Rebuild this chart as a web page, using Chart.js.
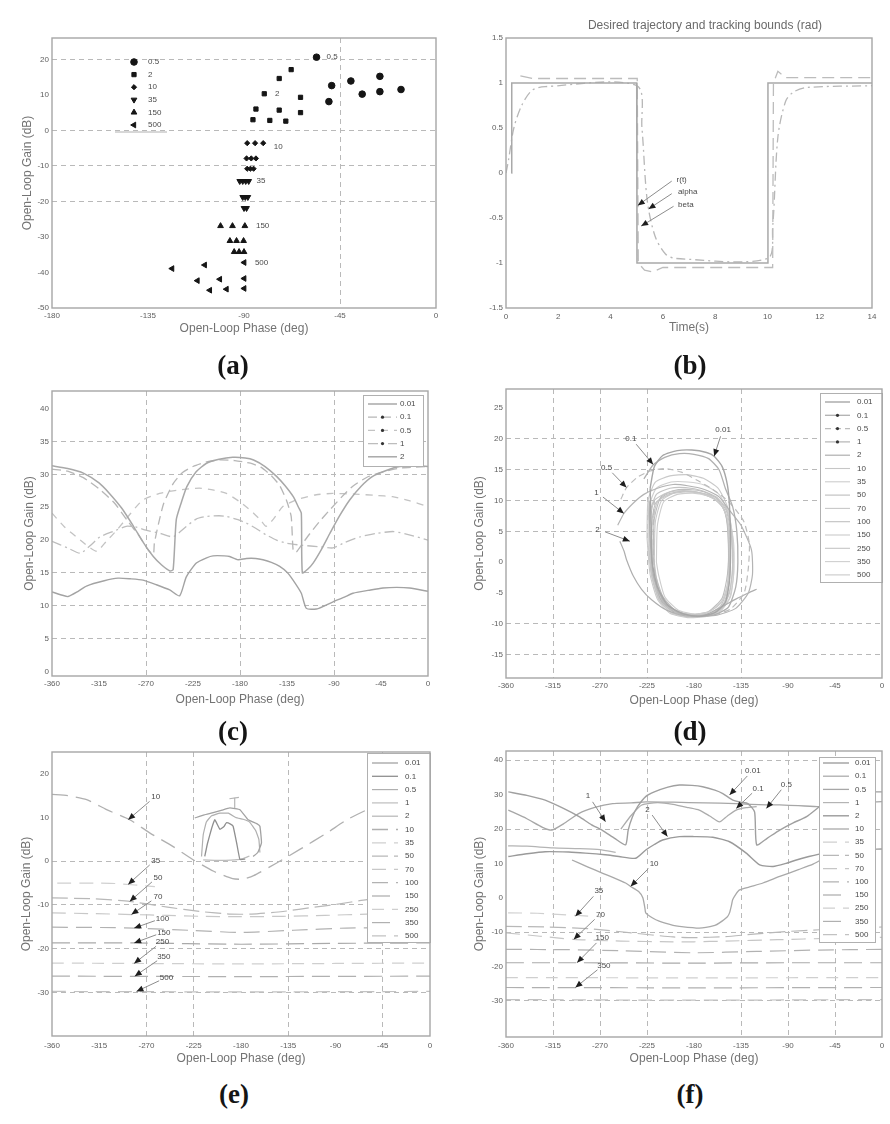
<!DOCTYPE html>
<html><head><meta charset="utf-8">
<script src="https://cdn.jsdelivr.net/npm/chart.js@4/dist/chart.umd.min.js"></script>
<style>
html,body{margin:0;padding:0;background:#fff}
body{width:890px;height:1124px;position:relative;overflow:hidden;font-family:"Liberation Sans",Arial,sans-serif}
.pn{position:absolute}
.cap{position:absolute;font-family:"Liberation Serif","Times New Roman",serif;font-weight:bold;font-size:27px;color:#151515;transform:translate(-50%,-50%);white-space:nowrap}
</style></head><body>
<div class="pn" style="left:0;top:0;width:445px;height:340px"><canvas id="ca"></canvas></div>
<div class="pn" style="left:445px;top:0;width:445px;height:340px"><canvas id="cb"></canvas></div>
<div class="pn" style="left:0;top:350px;width:445px;height:360px"><canvas id="cc"></canvas></div>
<div class="pn" style="left:445px;top:350px;width:445px;height:360px"><canvas id="cd"></canvas></div>
<div class="pn" style="left:0;top:715px;width:445px;height:355px"><canvas id="ce"></canvas></div>
<div class="pn" style="left:445px;top:715px;width:445px;height:355px"><canvas id="cf"></canvas></div>
<div class="cap" style="left:233px;top:365px">(a)</div>
<div class="cap" style="left:690px;top:365px">(b)</div>
<div class="cap" style="left:233px;top:731px">(c)</div>
<div class="cap" style="left:690px;top:731px">(d)</div>
<div class="cap" style="left:234px;top:1094px">(e)</div>
<div class="cap" style="left:690px;top:1094px">(f)</div>
<script>
// ---------------- DATA ----------------
// (a) open-loop gain vs phase, scatter groups
const a_legend = ['0.5','2','10','35','150','500'];
const a_w05  = [[-56,20.6],[-48.9,12.6],[-50.2,8.1],[-39.9,13.9],[-34.6,10.2],[-26.3,15.2],[-26.3,10.9],[-16.4,11.5]];
const a_w2   = [[-80.5,10.3],[-84.4,6.0],[-85.8,3.0],[-77.9,2.8],[-73.5,14.6],[-73.5,5.7],[-70.4,2.6],[-67.9,17.1],[-63.5,9.3],[-63.5,5.0]];
const a_w10  = [[-88.5,-3.6],[-84.8,-3.6],[-81.0,-3.6],[-88.8,-7.9],[-86.6,-7.9],[-84.4,-7.9],[-88.5,-10.8],[-87,-10.8],[-85.5,-10.8]];
const a_w35  = [[-92,-14.3],[-90.6,-14.3],[-89.2,-14.3],[-87.8,-14.3],[-90.6,-18.8],[-89.4,-18.8],[-88.2,-18.8],[-90,-21.9],[-88.8,-21.9]];
const a_w150 = [[-101,-26.9],[-95.4,-26.9],[-89.6,-26.9],[-96.6,-31.1],[-93.5,-31.1],[-90.2,-31.1],[-94.6,-34.2],[-92.3,-34.2],[-90,-34.2]];
const a_w500 = [[-89.9,-37.2],[-108.4,-37.9],[-123.7,-38.9],[-111.8,-42.3],[-101.3,-41.9],[-89.9,-41.7],[-106,-45],[-98.2,-44.7],[-89.9,-44.5]];
const a_notes = [
  {text:'0.5',tx:-51.3,ty:20.7,align:'left'},{text:'2',tx:-75.5,ty:10.2,align:'left'},
  {text:'10',tx:-76,ty:-4.6,align:'left'},{text:'35',tx:-84.1,ty:-14.1,align:'left'},
  {text:'150',tx:-84.4,ty:-26.9,align:'left'},{text:'500',tx:-84.9,ty:-37.2,align:'left'}];
const a_xticks = [-180,-135,-90,-45,0];
const a_yticks = [-50,-40,-30,-20,-10,0,10,20];

// (b) desired trajectory and tracking bounds
const b_r     = [[0.2,0],[0.22,1],[5,1],[5.01,-1],[10,-1],[10.02,1],[14,1]];
const b_alpha = [[0.55,1.08],[1,1.05],[5.02,1.05],[5.06,-1.0],[5.3,-1.08],[5.6,-1.1],[6,-1.05],[10.2,-1.05],[10.23,1.0],[10.4,1.13],[10.7,1.06],[14,1.06]];
const b_beta  = [[0,0],[0.1,0.15],[0.3,0.5],[0.6,0.75],[1,0.92],[1.5,0.96],[5,0.97],[5.2,0.5],[5.4,-0.3],[5.7,-0.7],[6.1,-0.9],[6.5,-0.95],[10,-0.95],[10.2,-0.6],[10.4,0.4],[10.7,0.8],[11,0.9],[11.5,0.95],[14,0.97]];
const b_notes = [
  {text:'r(t)',tx:6.72,ty:-0.07,hx:5.04,hy:-0.36,lx:6.34,ly:-0.09},
  {text:'alpha',tx:6.95,ty:-0.21,hx:5.45,hy:-0.40,lx:6.34,ly:-0.23},
  {text:'beta',tx:6.88,ty:-0.35,hx:5.17,hy:-0.59,lx:6.41,ly:-0.37}];
const b_xticks = [0,2,4,6,8,10,12,14];
const b_yticks = [-1.5,-1,-0.5,0,0.5,1,1.5];

// (c)
const c_legend = ['0.01','0.1','0.5','1','2'];
const c_w001 = [[-360,31.3],[-345,30.9],[-330,30.2],[-315,28.7],[-305,27.1],[-293,24.8],[-282,22.1],[-272,19.5],[-263,17.5],[-255,16.2],[-247,15.3],[-244,15.5],[-241,23.1],[-236,25.8],[-231,28.1],[-222,30.4],[-212,31.7],[-200,32.3],[-187,32.6],[-175,32.5],[-167,32.2],[-156,31.2],[-145,29.7],[-137,28.3],[-129,26.6],[-124,25],[-121.3,24.1],[-120.3,15.0],[-115,15.6],[-110,16.5],[-102,18.6],[-94,21.0],[-85,23.6],[-75,26.1],[-64,28.2],[-53,29.7],[-40,30.6],[-27,31.2],[-12,31.3],[0,31.2]];
const c_w01  = [[-360,30.8],[-345,30.5],[-330,29.5],[-315,27.8],[-300,25.6],[-288,23],[-276,20.5],[-268,18.5],[-263,17.8],[-262,19.5],[-258,22.5],[-253,25.6],[-244,28.6],[-235,30.3],[-225,31.2],[-212,31.9],[-200,32.2],[-185,32.1],[-170,31.7],[-160,31.1],[-150,29.8],[-142,28.3],[-135.6,26.1],[-131,23.6],[-129,18.3],[-126,18.2],[-120,19.5],[-113,21.0],[-104,22.8],[-94,24.6],[-83,26.5],[-72,28.2],[-58,29.6],[-43,30.4],[-25,31],[0,31.2]];
const c_w05  = [[-360,24.1],[-348,22],[-333,20.0],[-325,19],[-317,18.3],[-308,19.8],[-298,21.5],[-285,24],[-273,26.1],[-257,27.1],[-240,27.6],[-219,27.9],[-205,27.6],[-193,27.1],[-180,25.8],[-167,24.1],[-160,23],[-155,22.1],[-148,23.2],[-139,25.1],[-125,26.2],[-107,26.9],[-91,27.1],[-70,27],[-50,26.8],[-34,26.6],[-18,26],[0,25.1]];
const c_w1   = [[-360,19.8],[-345,18.8],[-333,18.0],[-323,19.2],[-314,20.5],[-300,21.4],[-289,22.1],[-280,22.0],[-270,21.5],[-256,21],[-244,20.5],[-232,22],[-222,23.2],[-212,23.6],[-200,23.7],[-193,23.6],[-182,23.1],[-174,22.6],[-165,21.8],[-155,20.8],[-145,20],[-135,19.5],[-120,19.2],[-105,19],[-91,18.8],[-80,19.6],[-65,20.5],[-50,21],[-33,21.3],[-18,20.8],[0,20.0]];
const c_w2   = [[-360,12.1],[-350,11.6],[-344.7,11.4],[-335,12.2],[-327,13.0],[-310,13.8],[-296.8,14.2],[-285,14.1],[-272.9,13.9],[-260,13.2],[-247.3,12.4],[-237.8,11.5],[-231.4,14.4],[-221.8,16.5],[-212,17.3],[-205.8,17.6],[-195,17.6],[-189.9,17.5],[-181.9,17.0],[-173.9,17.2],[-165,17.2],[-158,17.0],[-150,16.6],[-142,16.0],[-135,15.1],[-129.2,13.9],[-121.3,11.9],[-116.5,9.6],[-106.9,9.5],[-99,10],[-90.9,10.6],[-80,11.3],[-71.8,11.9],[-55,12.4],[-43.1,12.7],[-30,12.8],[-17.5,12.7],[0,12.2]];
const phase_ticks = [-360,-315,-270,-225,-180,-135,-90,-45,0];
const c_yticks = [0,5,10,15,20,25,30,35,40];

// (d)
const w_legend = ['0.01','0.1','0.5','1','2','10','35','50','70','100','150','250','350','500'];
const d_w001 = [[-222,12],[-218,15.5],[-210,17.3],[-196,18.1],[-182,18.2],[-168,17.8],[-160.7,17.2],[-153,15.5],[-148,12.5],[-146,9],[-145,3],[-146,-3],[-150,-6.5],[-160,-8.2],[-175,-8.8],[-190,-8.4],[-205,-7],[-215,-4],[-220,0],[-221,6],[-222,12]];
const d_w01  = [[-228,13.5],[-219,15.8],[-208,17],[-194,17.6],[-180,17.5],[-166,16.8],[-156,15],[-150,12],[-143,9],[-139,5],[-138,0],[-140,-4],[-147,-7.3],[-160,-8.5],[-178,-8.8],[-195,-8.2],[-210,-6],[-219,-2],[-222,4],[-223,10]];
const d_w05  = [[-250,10.2],[-244.6,12.1],[-234,13.8],[-222,14.8],[-208,15.2],[-192,14.6],[-176,13.2],[-162,11.8],[-150,10.3],[-140,8.5],[-132,6.5],[-127,3],[-128,-1],[-132,-5],[-145,-7.6],[-160,-8.5],[-180,-8.8],[-200,-8],[-212,-5.8],[-218,-1],[-219,5],[-218,10]];
const d_w1   = [[-253,6],[-247.1,7.9],[-238,9.6],[-228,11],[-215,12],[-200,12.6],[-186,12.4],[-170,11.8],[-156,10.6],[-146,8.4],[-135,6],[-125,2],[-124,-2],[-128,-5],[-140,-7.5],[-158,-8.6],[-178,-8.8],[-198,-8.2],[-212,-6],[-219,-2]];
const d_w2   = [[-251,3.4],[-247,1.8],[-244.6,0.4],[-238,-2.3],[-230.2,-4.4],[-220.6,-6.1],[-206,-7.8],[-188,-8.7],[-170,-8.6],[-155,-7.4],[-140,-6],[-128,-5],[-120,-4.4]];
const d_w10  = [[-222,0],[-222,6],[-218,10],[-205,11.3],[-190,11.6],[-175,11.3],[-160,10.6],[-150,9],[-145,6],[-143,0],[-145,-4],[-150,-6.5],[-162,-8.2],[-180,-8.6],[-198,-8],[-212,-6],[-219,-3],[-222,0]];
const d_w35  = [[-216,0],[-215,6],[-209,9.8],[-196,11],[-181,11.2],[-166,10.7],[-155,9.6],[-148,7],[-146,2],[-147,-3],[-152,-6],[-165,-8],[-180,-8.4],[-195,-7.8],[-208,-5.6],[-214,-2],[-216,0]];
const d_w50  = [[-219,1],[-218,7],[-212,10.5],[-200,11.6],[-185,11.8],[-170,11.4],[-158,10.3],[-150,8],[-147,3],[-148,-2],[-153,-5.8],[-166,-8],[-182,-8.5],[-198,-7.8],[-210,-5.5],[-217,-2],[-219,1]];
const d_w70  = [[-220,0],[-220,6],[-215,9.8],[-203,11],[-188,11.4],[-173,11.1],[-160,10.2],[-151,8.5],[-146,5],[-145,0],[-147,-4],[-152,-6.8],[-164,-8.3],[-181,-8.7],[-197,-8.1],[-210,-6.2],[-218,-3],[-220,0]];
const d_w100 = [[-221,-1],[-221,5],[-217,9.5],[-206,11],[-191,11.5],[-176,11.3],[-162,10.4],[-152,8.8],[-147,5.5],[-146,0.5],[-148,-4.2],[-154,-7],[-166,-8.4],[-182,-8.8],[-199,-8.2],[-211,-6.4],[-218,-3.5],[-221,-1]];
const d_w150 = [[-218,0],[-217,6.5],[-211,10],[-198,11.3],[-183,11.5],[-168,11],[-156,9.8],[-149,7.5],[-147,2],[-148,-3.5],[-154,-6.6],[-167,-8.2],[-183,-8.6],[-199,-8],[-211,-5.8],[-216,-2.5],[-218,0]];
const d_w250 = [[-223,2],[-222,8],[-216,11],[-203,12],[-188,12.1],[-172,11.6],[-158,10.5],[-149,8.3],[-144,4],[-143,-1],[-146,-5],[-153,-7.4],[-166,-8.6],[-183,-8.9],[-200,-8.3],[-213,-6.2],[-220,-2.5],[-223,2]];
const d_w350 = [[-224,3],[-223,9],[-216,12],[-202,13],[-186,13],[-170,12.5],[-156,11],[-147,8],[-142,3],[-142,-2],[-146,-5.8],[-155,-7.8],[-168,-8.7],[-185,-8.9],[-202,-8.2],[-214,-6],[-221,-2],[-224,3]];
const d_w500 = [[-225,4],[-224,10],[-217,13],[-203,14],[-187,14.2],[-171,13.6],[-157,12],[-148,9],[-143,4],[-142,-1.5],[-145,-5.6],[-154,-7.8],[-168,-8.8],[-186,-9],[-203,-8.3],[-215,-6],[-222,-2],[-225,4]];
const d_notes = [
  {text:'0.01',tx:-152.1,ty:21.5,hx:-160.7,hy:17.2},{text:'0.1',tx:-240.4,ty:20.0,hx:-219.1,hy:15.85},
  {text:'0.5',tx:-263.7,ty:15.3,hx:-244.6,hy:12.1},{text:'1',tx:-273.3,ty:11.25,hx:-247.1,hy:7.9},
  {text:'2',tx:-272.3,ty:5.3,hx:-241.4,hy:3.4}];
const d_yticks = [-15,-10,-5,0,5,10,15,20,25];

// (e)
const e_w001 = [[-224,9.9],[-215,10.6],[-206.5,11.1],[-198,11.7],[-190.6,12.2],[-181,11.8],[-173.2,9.5],[-165,8.6],[-162,8.0],[-160.5,4.2],[-164,2],[-168.4,1.1]];
const e_w01  = [[-214.5,1.1],[-212,4],[-208,7.5],[-205,9.5],[-200,7.3],[-196,8],[-194,8.8],[-190,8.5],[-187.5,8],[-184,4],[-181,0.4],[-176,0.5]];
const e_w05  = [[-217.6,1.1],[-216,6],[-213,9],[-208,10.4],[-200,11],[-192,11],[-185,10],[-178,9.6],[-172,9],[-166,7],[-163,5],[-162,2]];
const e_w1   = [[-216,0.3],[-205,0.2],[-195,0.2],[-186,0.3],[-178,0.6],[-172,1.2]];
const e_w2   = [[-186,12],[-186,14.5],[-191,14.3],[-182,14.6]];
const e_w10  = [[-360,15.3],[-345,15],[-327,14.1],[-308,11.8],[-286,9.5],[-267,6.5],[-245,3.4],[-226,0.4],[-206,-2.3],[-188,-4.0],[-178,-4.1],[-168,-3.3],[-146,-0.4],[-124,2.7],[-98,6.5],[-79,9.5],[-58,12],[-35,14.1],[-15,15],[0,15.3]];
const e_w35  = [[-355,-5],[-320,-5],[-300,-5.1],[-262,-5.8]];
const e_w50  = [[-360,-8.4],[-320,-8.6],[-286,-9.2],[-250,-10.5],[-219,-11.5],[-190,-12.1],[-170,-12.1],[-140,-11.5],[-110,-10.5],[-90,-9.9],[-60,-8.8],[-30,-8.5],[0,-8.4]];
const e_w70  = [[-360,-11.8],[-320,-12],[-284,-12.2],[-250,-12.4],[-220,-12.6],[-180,-12.7],[-140,-12.6],[-100,-12.4],[-60,-12.1],[0,-11.9]];
const e_w100 = [[-360,-15.1],[-300,-15.2],[-282,-15.3],[-230,-15.8],[-180,-16.3],[-130,-15.8],[-80,-15.3],[0,-15.1]];
const e_w150 = [[-360,-18.7],[-282,-18.7],[-180,-19],[-90,-18.8],[0,-18.7]];
const e_w250 = [[-360,-23.3],[-282,-23.4],[-180,-23.5],[-90,-23.4],[0,-23.3]];
const e_w350 = [[-360,-26.3],[-180,-26.4],[0,-26.3]];
const e_w500 = [[-360,-29.8],[-180,-29.9],[0,-29.8]];
const e_notes = [
  {text:'10',tx:-261.2,ty:14.7,hx:-287.5,hy:9.5},{text:'35',tx:-261.2,ty:0.2,hx:-287.5,hy:-5.3},
  {text:'50',tx:-259,ty:-3.7,hx:-286,hy:-9.2},{text:'70',tx:-259,ty:-8.2,hx:-284.4,hy:-12.2},
  {text:'100',tx:-254.8,ty:-13.1,hx:-281.8,hy:-15.3},{text:'150',tx:-253.5,ty:-16.3,hx:-281.8,hy:-18.7},
  {text:'250',tx:-254.8,ty:-18.5,hx:-281.8,hy:-23.4},{text:'350',tx:-253.5,ty:-21.9,hx:-281.2,hy:-26.3},
  {text:'500',tx:-251,ty:-26.7,hx:-279.6,hy:-29.8}];
const e_yticks = [-30,-20,-10,0,10,20];

// (f)
const f_w001 = [[-357.8,30.8],[-340,29.8],[-322.5,28.4],[-305,26],[-290,23.6],[-278,21.2],[-268,19.7],[-256,17.3],[-245.5,15.4],[-243,19.7],[-239,23.5],[-234,26.5],[-226,29.5],[-218,30.8],[-205,32.2],[-194,32.8],[-182,32.7],[-171.7,32.3],[-160,31.3],[-152.4,30.3],[-142.8,28.4],[-135,27.8],[-128.4,27.4],[-122,25],[-120,15.4],[-110,17.3],[-97.9,19.7],[-85,21.8],[-72.2,23.6],[-56,27.4],[-45,28.8],[-33.7,30.3],[-15,30.8],[0,30.8]];
const f_w01  = [[-250,20],[-240,24],[-230,27],[-215,27.7],[-200,27.2],[-185,26.2],[-175,25.5],[-165,23.8],[-155.6,22.1],[-148,23.8],[-139.6,25.5],[-130,26.2],[-120,26.5]];
const f_w05  = [[-357.8,25.5],[-340,23],[-325,20.5],[-316,19.7],[-305,21.5],[-290.4,24.5],[-275,26.3],[-258,27.4],[-240,27.6],[-226,27.9],[-200,27.8],[-170,27.6],[-140,27.4],[-110.7,27],[-98,27],[-80,26.8],[-59.4,26.5],[-40,27],[-20,27.6],[0,28]];
const f_w1   = [[-358,15.1],[-340,15],[-315,14.5],[-290,14.3],[-270,14],[-255,13.2]];
const f_w2   = [[-357.8,12.0],[-340,12.8],[-322.5,13.4],[-300,13.3],[-284,13.0],[-265,12.5],[-251.9,12.0],[-235.8,11.5],[-226.2,13.9],[-218,15.5],[-210,16.8],[-194,17.8],[-180,17.8],[-162,17.6],[-146,16.3],[-130,13.0],[-117.1,9.6],[-104.3,9.1],[-92,10],[-82,11.0],[-70,12],[-56,13.0],[-40,13.6],[-20,14],[0,14.2]];
const f_w10  = [[-296.8,11.0],[-282,9],[-267.9,7.2],[-255,5.6],[-245.5,4.3],[-240.7,3.3],[-233,1.8],[-229,0],[-227,-3],[-226.2,-4.4],[-220,-5.8],[-213.4,-6.8],[-200,-8],[-194.1,-8.3],[-175,-8.8],[-160,-8],[-155.6,-7.3],[-148,-5.5],[-146,-4.4],[-144,-2],[-143,-0.6],[-140,1],[-136.4,2.3],[-125,3.3],[-114,4.3],[-97.9,6.2],[-80,8.2],[-66,9.8],[-56,11.5]];
const f_w35  = [[-358,-4.4],[-330,-4.5],[-300,-5],[-270,-5.5]];
const f_w50  = [[-360,-8.3],[-320,-8.5],[-280,-9],[-240,-10.2],[-200,-11.4],[-180,-11.6],[-150,-11.3],[-120,-10.5],[-90,-9.8],[-60,-9.3],[-30,-8.8],[0,-8.5]];
const f_w70  = [[-360,-10.2],[-295,-12.1],[-250,-12.6],[-200,-12.8],[-180,-12.8],[-150,-12.6],[-100,-12.2],[-50,-11.8],[0,-11.5]];
const f_w100 = [[-360,-15],[-300,-15.1],[-250,-15.4],[-180,-16],[-120,-15.6],[-60,-15.2],[0,-15]];
const f_w150 = [[-360,-18.9],[-292,-18.9],[-180,-19],[-90,-18.9],[0,-18.9]];
const f_w250 = [[-360,-23.2],[-180,-23.3],[0,-23.2]];
const f_w350 = [[-360,-26.1],[-180,-26.2],[0,-26.1]];
const f_w500 = [[-360,-29.6],[-180,-29.8],[0,-29.6]];
const f_notes = [
  {text:'0.01',tx:-123.6,ty:36.9,hx:-146,hy:29.9},{text:'0.1',tx:-118.7,ty:31.8,hx:-139.6,hy:26.0},
  {text:'0.5',tx:-91.5,ty:33.0,hx:-110.7,hy:26.0},{text:'1',tx:-281.4,ty:29.6,hx:-264.7,hy:22.1},
  {text:'2',tx:-224.6,ty:25.7,hx:-205.4,hy:17.8},{text:'10',tx:-218.2,ty:9.9,hx:-240.7,hy:3.3},
  {text:'35',tx:-271.1,ty:1.9,hx:-293.6,hy:-5.4},{text:'70',tx:-269.5,ty:-4.9,hx:-295.2,hy:-12.1},
  {text:'150',tx:-267.9,ty:-11.7,hx:-292,hy:-18.9},{text:'350',tx:-266.3,ty:-19.7,hx:-293.6,hy:-26.1}];
const f_yticks = [-30,-20,-10,0,10,20,30,40];

// ---------------- RENDERING ----------------
const FONT = '"Liberation Sans", Arial, sans-serif';
const pts = arr => arr.map(p => ({x:p[0], y:p[1]}));
function ln(data, color, dash, width, tension){
  return {data:pts(data), borderColor:color, backgroundColor:color, borderDash:dash||[], borderWidth:width||1.2,
          showLine:true, pointRadius:0, fill:false, tension: tension===undefined?0.2:tension};
}
function mk(data, style, rot, r){
  return {data:pts(data), showLine:false, pointStyle:style, rotation:rot||0, pointRadius:r, backgroundColor:'#151515', borderColor:'#151515', borderWidth:1};
}

function drawNotes(chart, items){
  if(!items) return;
  const {ctx, scales:{x,y}} = chart;
  ctx.save();
  ctx.font = '8px '+FONT;
  for(const it of items){
    const tx = x.getPixelForValue(it.tx), ty = y.getPixelForValue(it.ty);
    if(it.hx !== undefined){
      const hx = x.getPixelForValue(it.hx), hy = y.getPixelForValue(it.hy);
      let sx, sy;
      if(it.lx !== undefined){ sx = x.getPixelForValue(it.lx); sy = y.getPixelForValue(it.ly); }
      else { const dx=hx-tx, dy=hy-ty, d=Math.hypot(dx,dy)||1; sx = tx+dx/d*8; sy = ty+dy/d*7; }
      ctx.strokeStyle='#8c8c8c'; ctx.lineWidth=1; ctx.setLineDash([]);
      ctx.beginPath(); ctx.moveTo(sx,sy); ctx.lineTo(hx,hy); ctx.stroke();
      const ang=Math.atan2(hy-sy,hx-sx), L=7, W=3;
      ctx.fillStyle='#1e1e1e'; ctx.beginPath(); ctx.moveTo(hx,hy);
      ctx.lineTo(hx-L*Math.cos(ang)+W*Math.sin(ang), hy-L*Math.sin(ang)-W*Math.cos(ang));
      ctx.lineTo(hx-L*Math.cos(ang)-W*Math.sin(ang), hy-L*Math.sin(ang)+W*Math.cos(ang));
      ctx.closePath(); ctx.fill();
    }
    ctx.fillStyle='#4a4a4a'; ctx.textAlign=it.align||'center'; ctx.textBaseline='middle';
    ctx.fillText(it.text, tx, ty);
  }
  ctx.restore();
}

function drawLegend(chart, lg){
  if(!lg) return;
  const {ctx, chartArea:a} = chart;
  const ds = chart.data.datasets;
  ctx.save();
  if(lg.box){
    ctx.fillStyle='#fff'; ctx.fillRect(a.left+lg.box[0], a.top+lg.box[1], lg.box[2], lg.box[3]);
    ctx.strokeStyle='#b0b0b0'; ctx.lineWidth=1; ctx.setLineDash([]);
    ctx.strokeRect(a.left+lg.box[0]+0.5, a.top+lg.box[1]+0.5, lg.box[2], lg.box[3]);
  }
  ctx.font='8px '+FONT; ctx.textBaseline='middle'; ctx.textAlign='left';
  lg.labels.forEach((lab,i)=>{
    const yy = a.top + lg.y0 + i*lg.dy;
    const d = ds[i];
    if(lg.points){
      ctx.fillStyle='#151515'; ctx.strokeStyle='#151515';
      Chart.helpers.drawPoint(ctx, {pointStyle:d.pointStyle, rotation:d.rotation, radius:d.pointRadius, borderWidth:1}, a.left+lg.sx0, yy);
    } else if(d){
      ctx.strokeStyle=d.borderColor; ctx.lineWidth=d.borderWidth; ctx.setLineDash(d.borderDash||[]);
      ctx.beginPath(); ctx.moveTo(a.left+lg.sx0, yy); ctx.lineTo(a.left+lg.sx1, yy); ctx.stroke();
      ctx.setLineDash([]);
      if(lg.dots && lg.dots.includes(i)){
        ctx.fillStyle='#333'; ctx.beginPath(); ctx.arc(a.left+(lg.sx0+lg.sx1)/2, yy, 1.6, 0, Math.PI*2); ctx.fill();
      }
    }
    ctx.fillStyle='#4a4a4a';
    ctx.fillText(lab, a.left+lg.tx, yy);
  });
  if(lg.rule){
    ctx.strokeStyle='#b0b0b0'; ctx.lineWidth=1;
    ctx.beginPath(); ctx.moveTo(a.left+lg.rule[0], a.top+lg.rule[2]); ctx.lineTo(a.left+lg.rule[1], a.top+lg.rule[2]); ctx.stroke();
  }
  ctx.restore();
}

const deco = {
  id:'deco',
  afterDatasetsDraw(chart, args, o){
    drawLegend(chart, o.legend);
    drawNotes(chart, o.notes);
  },
  afterDraw(chart, args, o){
    const {ctx, chartArea:a} = chart;
    ctx.save();
    ctx.strokeStyle='#a6a6a6'; ctx.lineWidth=1.4; ctx.setLineDash([]);
    ctx.strokeRect(a.left, a.top, a.right-a.left, a.bottom-a.top);
    if(o.title){
      ctx.font='12px '+FONT; ctx.fillStyle='#6a6a6a'; ctx.textAlign='center'; ctx.textBaseline='middle';
      ctx.fillText(o.title.text, o.title.x, o.title.y);
    }
    ctx.restore();
  }
};

function makeChart(id, c){
  const tickFont = {family:FONT, size:8};
  const titleFont = {family:FONT, size:12};
  const gridOpt = vis => ({drawTicks:false, lineWidth:1,
    color: ctx => (ctx.tick && vis.includes(ctx.tick.value)) ? '#b9b9b9' : 'rgba(0,0,0,0)'});
  return new Chart(document.getElementById(id), {
    type:'scatter',
    data:{datasets:c.datasets},
    options:{
      responsive:true, maintainAspectRatio:false, animation:false, devicePixelRatio:1,
      layout:{padding:{left:0, right:c.padR, top:c.padT, bottom:0}},
      plugins:{legend:{display:false}, tooltip:{enabled:false},
        deco:{legend:c.legend, notes:c.notes, title:c.title}},
      scales:{
        x:{type:'linear', position:'bottom', min:c.xmin, max:c.xmax,
           afterFit: s => { s.height = c.xH; },
           afterBuildTicks: s => { s.ticks = c.xticks.map(v=>({value:v})); },
           ticks:{font:tickFont, color:'#5e5e5e', padding:c.xtp, maxRotation:0, autoSkip:false, callback:v=>String(v)},
           grid:gridOpt(c.gx), border:{display:false, dash:[5,4]},
           title:{display:!!c.xtitle, text:c.xtitle||'', font:titleFont, color:'#737373', padding:{top:0,bottom:c.xpb}}},
        y:{type:'linear', position:'left', min:c.ymin, max:c.ymax,
           afterFit: s => { s.width = c.yW; },
           afterBuildTicks: s => { s.ticks = c.yticks.map(v=>({value:v})); },
           ticks:{font:tickFont, color:'#5e5e5e', padding:3, autoSkip:false, callback:v=>String(v)},
           grid:gridOpt(c.gy), border:{display:false, dash:[5,4]},
           title:{display:!!c.ytitle, text:c.ytitle||'', font:titleFont, color:'#737373', padding:{top:c.ypt,bottom:0}}}
      }
    },
    plugins:[deco]
  });
}

const XT = 'Open-Loop Phase (deg)', YT = 'Open-Loop Gain (dB)';

// (a)
makeChart('ca', {
  datasets:[mk(a_w05,'circle',0,3.3), mk(a_w2,'rect',0,3), mk(a_w10,'rectRot',0,2.6),
            mk(a_w35,'triangle',180,3.3), mk(a_w150,'triangle',0,3.3), mk(a_w500,'triangle',-90,3.3)],
  padT:38, padR:9, yW:52, xH:32, xtp:3, xpb:3.8, ypt:20.8,
  xmin:-180, xmax:0, ymin:-50, ymax:26, xticks:a_xticks, yticks:a_yticks,
  gx:[-45], gy:[20,0,-10,-20], xtitle:XT, ytitle:YT,
  legend:{labels:a_legend, points:true, sx0:82, tx:96, y0:24, dy:12.6, rule:[63,115,94]},
  notes:a_notes
});

// (b)
makeChart('cb', {
  datasets:[ln(b_r,'#a9a9a9',[],1.5,0), ln(b_alpha,'#bcbcbc',[12,6],1.3,0), ln(b_beta,'#b7b7b7',[9,4,2,4],1.3,0.3)],
  padT:38, padR:18, yW:61, xH:32, xtp:4, xpb:4.8, ypt:0,
  xmin:0, xmax:14, ymin:-1.5, ymax:1.5, xticks:b_xticks, yticks:b_yticks,
  gx:[], gy:[], xtitle:'Time(s)',
  title:{text:'Desired trajectory and tracking bounds (rad)', x:260, y:26},
  notes:b_notes
});

// (c)
makeChart('cc', {
  datasets:[ln(c_w001,'#a8a8a8',[],1.5), ln(c_w01,'#b6b6b6',[9,5],1.3), ln(c_w05,'#c3c3c3',[7,6],1.3),
            ln(c_w1,'#bdbdbd',[10,4,2,4],1.3), ln(c_w2,'#a3a3a3',[],1.4)],
  padT:41, padR:17, yW:52, xH:34, xtp:2.5, xpb:2.8, ypt:22.8,
  xmin:-360, xmax:0, ymin:-0.7, ymax:42.7, xticks:phase_ticks, yticks:c_yticks,
  gx:[-270,-180,-90], gy:[35,30,15,10,5], xtitle:XT, ytitle:YT,
  legend:{labels:c_legend, box:[311,4,60,71], sx0:316, sx1:345, tx:348, y0:13, dy:13.2, dots:[1,2,3]}
});

// (d)
const dsD = [
  ln(d_w001,'#a6a6a6',[],1.4), ln(d_w01,'#b0b0b0',[],1.3), ln(d_w05,'#bcbcbc',[6,4],1.2), ln(d_w1,'#b4b4b4',[],1.2),
  ln(d_w2,'#aeaeae',[],1.2), ln(d_w10,'#c6c6c6',[],1.1), ln(d_w35,'#cdcdcd',[],1.1), ln(d_w50,'#bdbdbd',[],1.1),
  ln(d_w70,'#c8c8c8',[],1.1), ln(d_w100,'#c0c0c0',[],1.1), ln(d_w150,'#cacaca',[],1.1), ln(d_w250,'#c4c4c4',[],1.1),
  ln(d_w350,'#cfcfcf',[],1.1), ln(d_w500,'#c9c9c9',[],1.1)];
makeChart('cd', {
  datasets:dsD,
  padT:39, padR:8, yW:61, xH:32, xtp:3.2, xpb:1.8, ypt:27.8,
  xmin:-360, xmax:0, ymin:-18.8, ymax:28.1, xticks:phase_ticks, yticks:d_yticks,
  gx:[-315,-270,-225,-135], gy:[20,15,10,5,-10,-15], xtitle:XT, ytitle:YT,
  legend:{labels:w_legend, box:[314,4,62,189], sx0:319, sx1:344, tx:351, y0:13, dy:13.3, dots:[1,2,3]},
  notes:d_notes
});

// (e)
const dsE = [
  ln(e_w001,'#a2a2a2',[],1.3,0.1), ln(e_w01,'#8f8f8f',[],1.3,0.1), ln(e_w05,'#b0b0b0',[],1.2,0.1), ln(e_w1,'#bdbdbd',[],1.2,0.1),
  ln(e_w2,'#b5b5b5',[],1.2,0), ln(e_w10,'#b0b0b0',[16,8],1.3), ln(e_w35,'#d0d0d0',[14,8],1.2), ln(e_w50,'#b8b8b8',[16,6],1.2),
  ln(e_w70,'#c8c8c8',[14,8],1.2), ln(e_w100,'#b2b2b2',[16,8],1.2), ln(e_w150,'#aaaaaa',[18,8],1.2), ln(e_w250,'#cfcfcf',[12,8],1.2),
  ln(e_w350,'#b0b0b0',[18,8],1.2), ln(e_w500,'#c2c2c2',[14,8],1.2)];
makeChart('ce', {
  datasets:dsE,
  padT:37, padR:15, yW:52, xH:34, xtp:5, xpb:3.8, ypt:19.8,
  xmin:-360, xmax:0, ymin:-40, ymax:25, xticks:phase_ticks, yticks:e_yticks,
  gx:[-270,-225,-135,-45], gy:[0,-10,-20,-30], xtitle:XT, ytitle:YT,
  legend:{labels:w_legend, box:[315,1,63,189], sx0:320, sx1:346, tx:353, y0:11, dy:13.3},
  notes:e_notes
});

// (f)
const dsF = [
  ln(f_w001,'#a0a0a0',[],1.4), ln(f_w01,'#acacac',[],1.3), ln(f_w05,'#a7a7a7',[],1.3), ln(f_w1,'#b4b4b4',[],1.2),
  ln(f_w2,'#9a9a9a',[],1.4), ln(f_w10,'#a9a9a9',[],1.3), ln(f_w35,'#d0d0d0',[14,8],1.2), ln(f_w50,'#b8b8b8',[16,6],1.2),
  ln(f_w70,'#c6c6c6',[14,8],1.2), ln(f_w100,'#b2b2b2',[16,8],1.2), ln(f_w150,'#aaaaaa',[18,8],1.2), ln(f_w250,'#cfcfcf',[12,8],1.2),
  ln(f_w350,'#b0b0b0',[18,8],1.2), ln(f_w500,'#c2c2c2',[14,8],1.2)];
makeChart('cf', {
  datasets:dsF,
  padT:36, padR:8, yW:61, xH:33, xtp:4.2, xpb:3.8, ypt:27.8,
  xmin:-360, xmax:0, ymin:-40.5, ymax:42.7, xticks:phase_ticks, yticks:f_yticks,
  gx:[-315,-270,-225,-135,-90,-45], gy:[40,20,-10,-30], xtitle:XT, ytitle:YT,
  legend:{labels:w_legend, box:[313,6,56,185], sx0:317, sx1:343, tx:349, y0:12, dy:13.2},
  notes:f_notes
});
</script>
</body></html>
